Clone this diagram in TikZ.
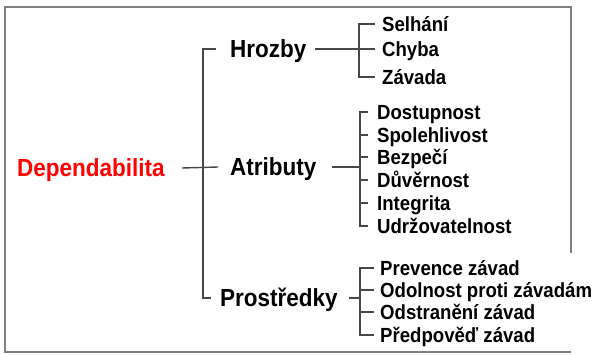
\documentclass[tikz,border=0pt]{standalone}
\usepackage{fontspec}
\setmainfont{Liberation Sans}
% slightly taller lettering
\newcommand{\tallbox}[1]{\scalebox{1}[1.1]{#1}}
\begin{document}
\begin{tikzpicture}[x=1pt,y=-1pt,
  conn/.style={draw=black!72, line width=1.4pt},
  frameline/.style={draw=black!50, line width=2pt},
  toplabel/.style={inner sep=0pt, anchor=west, text height=17.7pt, text depth=0pt,
    font=\fontsize{22.5}{24}\selectfont\bfseries},
  leaf/.style={inner sep=0pt, anchor=west, text height=14.6pt, text depth=0pt,
    font=\fontsize{18.6}{20}\selectfont\bfseries}]
\useasboundingbox (0,0) rectangle (598,354);

% outer frame (right side stops above the last group)
\draw[frameline] (571,253) -- (571,7) -- (5,7) -- (5,352) -- (571,352);

% root and the three branches
\node[toplabel, text=red] (dep) at (17,168) {\tallbox{Dependabilita}};
\node[toplabel] (hro) at (230,49) {\tallbox{Hrozby}};
\node[toplabel] (atr) at (230,167) {\tallbox{Atributy}};
\node[toplabel] (pro) at (220,298) {\tallbox{Prostředky}};

% threats
\node[leaf] (sel) at (382,24) {\tallbox{Selhání}};
\node[leaf] (chy) at (382,49) {\tallbox{Chyba}};
\node[leaf] (zav) at (382,77) {\tallbox{Závada}};

% attributes
\node[leaf] (dos) at (377,112) {\tallbox{Dostupnost}};
\node[leaf] (spo) at (377,135) {\tallbox{Spolehlivost}};
\node[leaf] (bez) at (377,157) {\tallbox{Bezpečí}};
\node[leaf] (duv) at (377,180) {\tallbox{Důvěrnost}};
\node[leaf] (int) at (377,203) {\tallbox{Integrita}};
\node[leaf] (udr) at (377,226) {\tallbox{Udržovatelnost}};

% means
\node[leaf] (pre) at (380,268) {\tallbox{Prevence závad}};
\node[leaf] (odo) at (380,290) {\tallbox{Odolnost proti závadám}};
\node[leaf] (ods) at (380,312) {\tallbox{Odstranění závad}};
\node[leaf] (pda) at (380,335) {\tallbox{Předpověď závad}};

% main trunk
\coordinate (mt) at (203,168);
\draw[conn] ([xshift=-14pt]hro.west) -- (hro.west -| mt) -- (pro.west -| mt) -- ([xshift=-9pt]pro.west);
\draw[conn] ([xshift=17pt]dep.east) -- ([xshift=-12pt]atr.west);

% threats bracket
\coordinate (ht) at (359,0);
\draw[conn] ([xshift=8pt]hro.east) -- ([xshift=-7pt]chy.west);
\draw[conn] ([xshift=-7pt]sel.west) -- (sel.west -| ht) -- (zav.west -| ht) -- ([xshift=-7pt]zav.west);

% attributes bracket
\coordinate (at) at (360,0);
\draw[conn] ([xshift=15pt]atr.east) -- (atr.east -| at);
\draw[conn] ([xshift=-9pt]dos.west) -- (dos.west -| at) -- (udr.west -| at) -- ([xshift=-9pt]udr.west);
\foreach \n in {spo,bez,duv,int}
  \draw[conn] (\n.west -| at) -- ([xshift=-9pt]\n.west);

% means bracket
\coordinate (pt) at (360,0);
\draw[conn] ([xshift=11pt]pro.east) -- (pro.east -| pt);
\draw[conn] ([xshift=-6pt]pre.west) -- (pre.west -| pt) -- (pda.west -| pt) -- ([xshift=-6pt]pda.west);
\foreach \n in {odo,ods}
  \draw[conn] (\n.west -| pt) -- ([xshift=-6pt]\n.west);
\end{tikzpicture}
\end{document}
